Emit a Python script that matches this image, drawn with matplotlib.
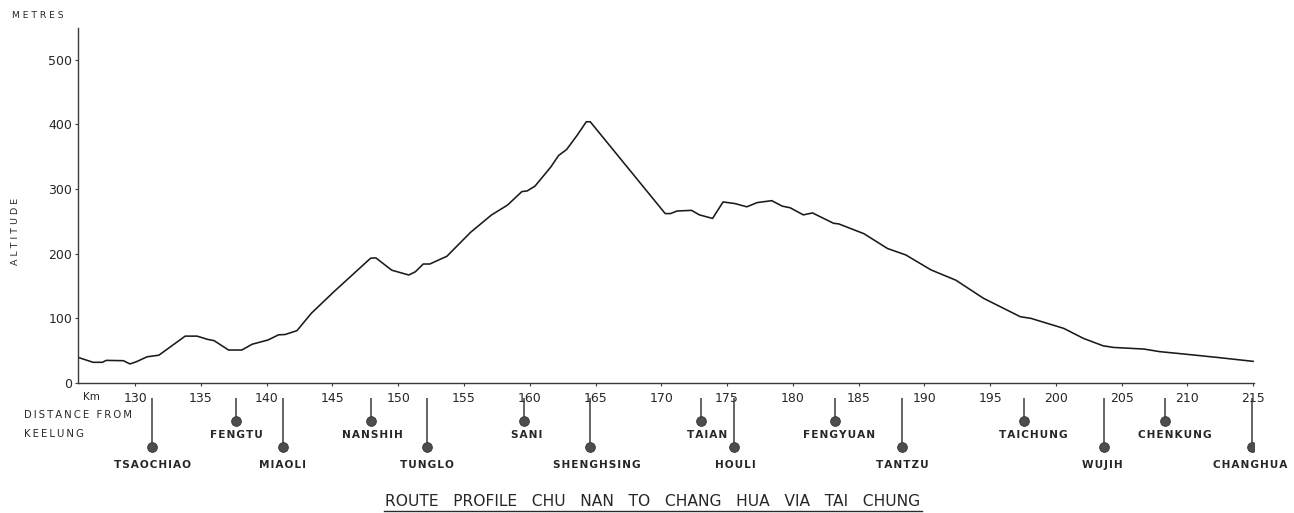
import matplotlib
matplotlib.use("Agg")
import matplotlib.pyplot as plt
from matplotlib.lines import Line2D

# ---------------- data ----------------
distance_km = [125.6, 126.8, 127.5, 127.8, 129.1, 129.6, 130.1, 130.9, 131.8, 133.8,
               134.7, 135.5, 136.0, 137.1, 138.1, 138.9, 140.1, 140.9, 141.4, 142.3,
               143.4, 145.1, 147.9, 148.3, 149.5, 150.8, 151.3, 151.9, 152.4, 153.7,
               155.5, 157.1, 158.3, 159.4, 159.8, 160.4, 161.6, 162.2, 162.8, 163.6,
               164.3, 164.6, 170.3, 170.7, 171.2, 172.3, 172.9, 173.9, 174.7, 175.6,
               176.5, 177.3, 178.4, 179.2, 179.8, 180.8, 181.5, 183.1, 183.5, 185.4,
               187.2, 188.6, 190.5, 192.4, 194.5, 197.3, 198.1, 200.6, 202.1, 203.6,
               204.4, 206.7, 207.9, 209.9, 212.3, 215.0]
altitude_m = [40, 32, 32, 35, 34.5, 29.5, 33, 40.5, 43, 72.5,
              72.5, 67.5, 65.5, 51, 51, 60, 66.5, 74.5, 75, 81,
              108, 141, 193, 193.5, 174.5, 167, 172, 184, 184, 196,
              233, 260, 275, 296, 297, 304.5, 334, 352, 361, 383,
              404, 404, 262, 262, 266, 267, 260, 254.5, 280, 277.5,
              272.5, 279, 282, 273.5, 271, 260, 263, 247, 246, 231,
              208, 198, 175, 159, 131, 102.5, 100, 84.5, 69, 57.5,
              55, 52.5, 48.5, 44.5, 39.5, 33.5]

station_names = ["TSAOCHIAO", "FENGTU", "MIAOLI", "NANSHIH", "TUNGLO", "SANI",
                 "SHENGHSING", "TAIAN", "HOULI", "FENGYUAN", "TANTZU", "TAICHUNG",
                 "WUJIH", "CHENKUNG", "CHANGHUA"]
station_km = [131.3, 137.7, 141.2, 147.9, 152.2, 159.6, 164.6, 173.0, 175.5,
              183.2, 188.3, 197.6, 203.7, 208.3, 214.9]
station_row = [1, 0, 1, 0, 1, 0, 1, 0, 1, 0, 1, 0, 1, 0, 1]   # 0 = upper, 1 = lower

x_ticks = list(range(130, 216, 5))
y_ticks = [0, 100, 200, 300, 400, 500]

title_text = "ROUTE PROFILE CHU NAN TO CHANG HUA VIA TAI CHUNG"

# ---------------- layout / style ----------------
label_shift_km = [0, 0, 0, 0.1, 0, 0.15, 0.5, 0.5, 0.1, 0.3, 0, 0.7, -0.2, 0.75, -0.1]
W, H = 1294, 513
INK = "#262626"
FONT = "DejaVu Sans"


def fx(px):
    return px / W


def fy(py):
    return 1 - py / H


def spaced(s, sep=" "):
    return sep.join(list(s))


fig = plt.figure(figsize=(W / 100, H / 100), dpi=100)
fig.patch.set_facecolor("white")

ax = fig.add_axes([fx(78), fy(383), fx(1254) - fx(78), fy(28) - fy(383)])
ax.plot(distance_km, altitude_m, color="#1a1a1a", lw=1.15, solid_joinstyle="round")
ax.set_xlim(125.65, 215.07)
ax.set_ylim(0, 549)
for s in ("top", "right"):
    ax.spines[s].set_visible(False)
for s in ("left", "bottom"):
    ax.spines[s].set_color("#3a3a3a")
    ax.spines[s].set_linewidth(1.0)
ax.set_xticks(x_ticks)
ax.set_yticks(y_ticks)
ax.tick_params(axis="x", direction="out", length=2.2, width=0.8, colors="#3a3a3a",
               labelcolor=INK, labelsize=9, pad=4.0)
ax.tick_params(axis="y", direction="out", length=2.2, width=0.8, colors="#3a3a3a",
               labelcolor=INK, labelsize=9, pad=2.0)
for lab in ax.get_xticklabels() + ax.get_yticklabels():
    lab.set_family(FONT)

# station strip below the axis (y measured in pixels below the axis line)
ax2 = fig.add_axes([fx(78), fy(483), fx(1254) - fx(78), fy(383) - fy(483)])
ax2.set_xlim(ax.get_xlim())
ax2.set_ylim(100, 0)
ax2.axis("off")
dot_y = [37.5, 63.5]
lab_y = [51.5, 82.0]
for name, km, row, dx in zip(station_names, station_km, station_row, label_shift_km):
    ax2.plot([km, km], [15, dot_y[row]], color="#3a3a3a", lw=1.1, solid_capstyle="butt")
    ax2.plot([km], [dot_y[row]], marker="o", ms=7.0, color="#4d4d4d", mec="#333333", mew=0.6)
    ax2.text(km + dx, lab_y[row], spaced(name, "\u200a"), ha="center", va="center",
             fontsize=7.6, fontweight="bold", family=FONT, color=INK)

# side texts
fig.text(fx(83), fy(397), "Km", ha="left", va="center", fontsize=7.5, family=FONT, color=INK)
fig.text(fx(24), fy(415.5), spaced("DISTANCE FROM", "\u2009"), ha="left", va="center",
         fontsize=7.3, family=FONT, color=INK)
fig.text(fx(24), fy(434), spaced("KEELUNG", "\u2009"), ha="left", va="center",
         fontsize=7.3, family=FONT, color=INK)
fig.text(fx(12), fy(16), spaced("METRES"), ha="left", va="center", fontsize=6.6,
         family=FONT, color=INK)
fig.text(fx(15), fy(231.5), spaced("ALTITUDE"), ha="center", va="center", rotation=90,
         fontsize=6.8, family=FONT, color=INK)

# title with underline
t = fig.text(fx(653), fy(501), title_text.replace(" ", "   "), ha="center", va="center",
             fontsize=11.2, family=FONT, color=INK)
fig.canvas.draw()
bb = t.get_window_extent()
fig.add_artist(Line2D([bb.x0 / W - 0.001, bb.x1 / W + 0.001], [fy(510.5), fy(510.5)],
                      transform=fig.transFigure, color="#2a2a2a", lw=1.0))

fig.savefig("out.png", dpi=100, facecolor="white")
